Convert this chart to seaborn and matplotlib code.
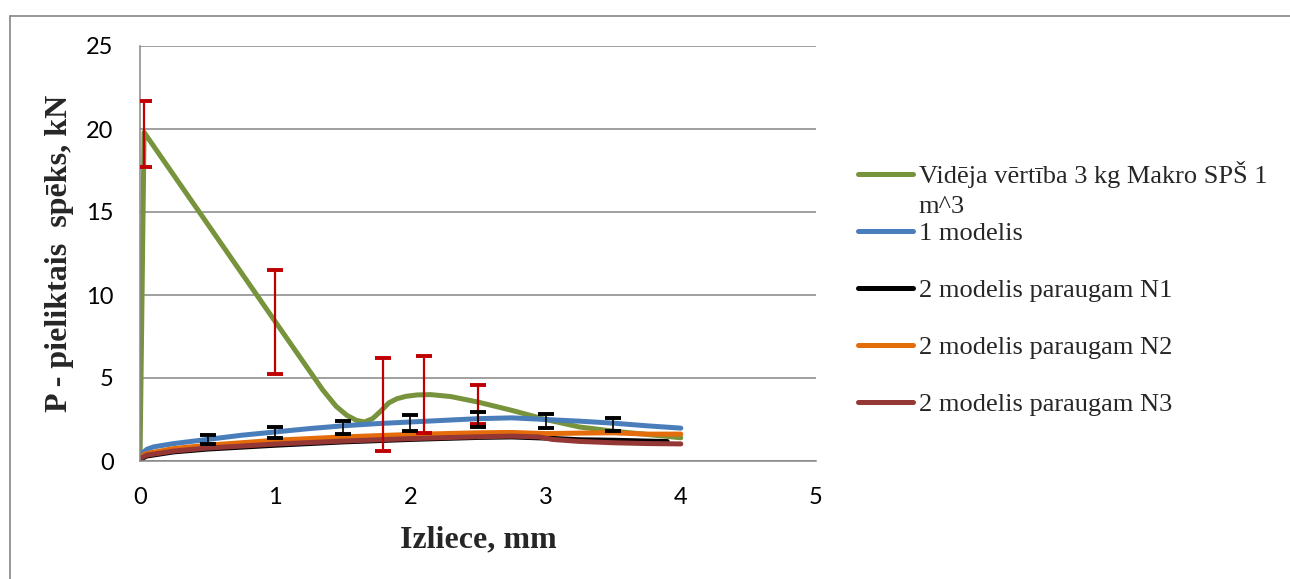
import numpy as np
import pandas as pd
import matplotlib
matplotlib.use('Agg')
import matplotlib.pyplot as plt
import seaborn as sns
from matplotlib.lines import Line2D

sns.set_style('white')
plt.rcParams['font.family'] = ['Lato', 'DejaVu Sans']

# --- data ---
green_x = [0, 0.03, 1.0, 1.35, 1.45, 1.53, 1.6, 1.66, 1.72, 1.78, 1.84, 1.9, 1.97, 2.05, 2.15,
           2.3, 2.5, 2.75, 3.0, 3.25, 3.5, 3.75, 4.0]
green_y = [0, 19.8, 8.4, 4.3, 3.3, 2.75, 2.45, 2.35, 2.55, 3.0, 3.5, 3.75, 3.9, 3.98, 4.0,
           3.88, 3.55, 3.05, 2.5, 2.05, 1.8, 1.6, 1.4]

blue_x = [0, 0.05, 0.1, 0.25, 0.5, 0.75, 1.0, 1.25, 1.5, 1.75, 2.0, 2.25, 2.5, 2.75, 3.0, 3.25, 3.5, 3.75, 4.0]
blue_y = [0.35, 0.7, 0.85, 1.05, 1.3, 1.55, 1.75, 1.95, 2.12, 2.25, 2.35, 2.45, 2.55, 2.6, 2.5, 2.4, 2.28, 2.12, 1.98]

n1_x = [0, 0.05, 0.25, 0.5, 1.0, 1.5, 2.0, 2.5, 2.75, 3.0, 3.25, 3.5, 3.75, 3.9]
n1_y = [0.1, 0.3, 0.55, 0.72, 0.95, 1.15, 1.3, 1.42, 1.45, 1.38, 1.28, 1.25, 1.2, 1.17]

n2_x = [0, 0.05, 0.25, 0.5, 1.0, 1.5, 2.0, 2.5, 2.75, 3.0, 3.25, 3.5, 3.75, 4.0]
n2_y = [0.25, 0.45, 0.75, 0.95, 1.25, 1.45, 1.6, 1.7, 1.72, 1.65, 1.68, 1.7, 1.62, 1.62]

n3_x = [0, 0.05, 0.25, 0.5, 1.0, 1.5, 2.0, 2.5, 2.75, 2.95, 3.05, 3.25, 3.5, 3.75, 4.0]
n3_y = [0.15, 0.35, 0.6, 0.78, 1.02, 1.2, 1.35, 1.46, 1.5, 1.45, 1.3, 1.18, 1.1, 1.05, 1.03]

# error bars (low / high ends)
red_err_x = [0.03, 1.0, 1.8, 2.1, 2.5]
red_err_lo = [17.7, 5.25, 0.6, 1.7, 2.25]
red_err_hi = [21.7, 11.5, 6.2, 6.3, 4.6]

blk_err_x = [0.5, 1.0, 1.5, 2.0, 2.5, 3.0, 3.5]
blk_err_lo = [1.02, 1.37, 1.63, 1.83, 2.03, 1.97, 1.81]
blk_err_hi = [1.57, 2.07, 2.43, 2.77, 2.97, 2.83, 2.61]

labels = ['Vidēja vērtība 3 kg Makro SPŠ 1', '1 modelis', '2 modelis paraugam N1',
          '2 modelis paraugam N2', '2 modelis paraugam N3']
colors = ['#77933C', '#4A7EBB', '#000000', '#E46C0A', '#953735']

fig = plt.figure(figsize=(12.9, 5.79), dpi=100)
ax = fig.add_axes([140 / 1290, 1 - 461 / 579, 676 / 1290, 415 / 579])

series = [(green_x, green_y), (blue_x, blue_y), (n1_x, n1_y), (n2_x, n2_y), (n3_x, n3_y)]
for (sx, sy), lab, col in zip(series, labels, colors):
    sns.lineplot(x=sx, y=sy, ax=ax, color=col, lw=3.6, label=lab, legend=False)

# error bars
r_lo, r_hi = np.array(red_err_lo), np.array(red_err_hi)
ax.errorbar(red_err_x, (r_lo + r_hi) / 2, yerr=(r_hi - r_lo) / 2, fmt='none',
            ecolor='#C00000', elinewidth=1.6, capsize=5.8, capthick=2.8, zorder=5)
b_lo, b_hi = np.array(blk_err_lo), np.array(blk_err_hi)
ax.errorbar(blk_err_x, (b_lo + b_hi) / 2, yerr=(b_hi - b_lo) / 2, fmt='none',
            ecolor='black', elinewidth=1.2, capsize=5.8, capthick=2.8, zorder=5)

ax.set_xlim(0, 5)
ax.set_ylim(0, 25)
ax.set_xticks(range(0, 6))
ax.set_yticks(range(0, 26, 5))
ax.yaxis.grid(True, color='#868686', lw=1.1)
ax.xaxis.grid(False)
ax.set_axisbelow(True)
for s in ['top', 'right']:
    ax.spines[s].set_visible(False)
for s in ['left', 'bottom']:
    ax.spines[s].set_color('#868686')
    ax.spines[s].set_linewidth(1.1)
ax.tick_params(axis='both', length=0, labelsize=17, pad=19, labelcolor='black')

ax.set_xlabel('Izliece, mm', family='Liberation Serif', fontweight='bold', fontsize=23, labelpad=12)
ax.set_ylabel('P - pieliktais  spēks, kN', family='Liberation Serif', fontweight='bold',
              fontsize=23, labelpad=9)

handles = [Line2D([], [], color=c, lw=3.6) for c in colors]
leg = ax.legend(handles, labels, loc='upper left', bbox_to_anchor=(858 / 1290, 1 - 161 / 579),
                bbox_transform=fig.transFigure, frameon=False, borderpad=0, borderaxespad=0,
                handlelength=2.1, handletextpad=0.2, labelspacing=1.27,
                prop={'family': 'Liberation Serif', 'size': 19})
# wrapped second line of the first legend entry
ax.annotate('m^3', xy=(0, 0), xycoords=leg.get_texts()[0], xytext=(0, -6),
            textcoords='offset points', va='top', ha='left', zorder=10,
            family='Liberation Serif', fontsize=19, annotation_clip=False)

# outer frame of the chart area
gray = '#868686'
fig.add_artist(Line2D([10 / 1290, 1], [1 - 16 / 579] * 2, transform=fig.transFigure, color=gray, lw=1.2))
fig.add_artist(Line2D([10 / 1290] * 2, [0, 1 - 16 / 579], transform=fig.transFigure, color=gray, lw=1.2))

fig.savefig('out.png', dpi=100, facecolor='white')
